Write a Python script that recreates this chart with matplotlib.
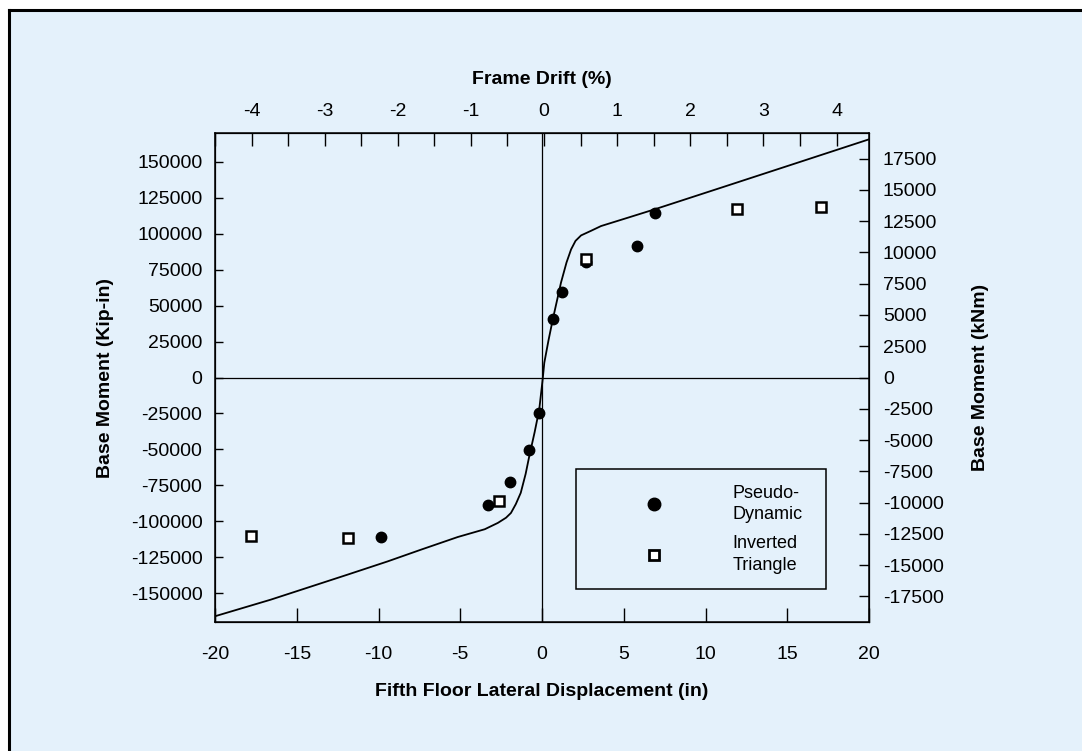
import matplotlib
matplotlib.use('Agg')
import matplotlib.pyplot as plt
from matplotlib.lines import Line2D
from matplotlib.patches import Rectangle

plt.rcParams['font.family'] = 'Liberation Sans'

# backbone curve: fifth floor displacement (in) vs base moment (kip-in)
curve_disp = [-20, -16.6, -11.9, -9.45, -7.4, -5.15, -3.5, -2.7, -2.2, -1.9,
              -1.6, -1.3, -1.0, -0.78, -0.45, -0.17, 0.04, 0.14, 0.4, 0.66,
              1.16, 1.5, 1.78, 2.05, 2.39, 3.0, 3.61, 5.25, 6.88, 10.96, 15.0, 20]
curve_moment = [-166000, -154500, -137100, -127900, -119700, -110900, -105500,
                -101100, -97500, -94200, -88000, -80200, -67000, -54800, -38000,
                -22300, -1400, 10200, 26000, 40400, 65900, 80000, 89100, 95000,
                98800, 102000, 105300, 111100, 116900, 132000, 147000, 165600]

# pseudo-dynamic test results
pd_disp = [-9.86, -3.29, -1.96, -0.78, -0.20, 0.66, 1.24, 2.70, 5.80, 6.92]
pd_moment = [-110900, -88900, -72900, -50100, -24600, 40400, 59600, 80200,
             91400, 114600]

# inverted triangle load pattern
tri_disp = [-17.8, -11.86, -2.65, 2.70, 11.92, 17.05]
tri_moment = [-110000, -111800, -85800, 82600, 117400, 118800]

disp_ticks = [-20, -15, -10, -5, 0, 5, 10, 15, 20]
drift_ticks = [-4, -3, -2, -1, 0, 1, 2, 3, 4]
drift_minor = [-4.5, -3.5, -2.5, -1.5, -0.5, 0.5, 1.5, 2.5, 3.5]
moment_ticks = list(range(-150000, 150001, 25000))
knm_ticks = list(range(-17500, 17501, 2500))

FLOOR_HEIGHT = 450.0   # in, fifth floor height
KIPIN_TO_KNM = 0.115
XLIM = 20
YLIM = 170000
BG = '#e4f1fb'

fig = plt.figure(figsize=(10.82, 7.51), dpi=100)
fig.patch.set_facecolor('white')

# panel background with a black rule along the left and top
x0, y1 = 9 / 1082, 1 - 10 / 751
fig.patches.append(Rectangle((x0, 0), 1 - x0, y1, transform=fig.transFigure,
                             facecolor=BG, edgecolor='none', zorder=-2))
fig.lines.append(Line2D([x0, x0], [0, y1], transform=fig.transFigure,
                        color='black', lw=2.2, zorder=-1))
fig.lines.append(Line2D([x0, 1], [y1, y1], transform=fig.transFigure,
                        color='black', lw=2.2, zorder=-1))

ax = fig.add_axes([215 / 1082, 1 - 622 / 751, 654 / 1082, 489 / 751])
ax.set_facecolor(BG)

ax.axhline(0, color='black', lw=0.9, zorder=1)
ax.axvline(0, color='black', lw=0.9, zorder=1)
ax.plot(curve_disp, curve_moment, color='black', lw=1.3, zorder=2)
ax.plot(pd_disp, pd_moment, 'o', color='black', ms=7.5, zorder=3)
ax.plot(tri_disp, tri_moment, 's', mfc='white', mec='black', mew=1.8, ms=6.5,
        zorder=3)

ax.set_xlim(-XLIM, XLIM)
ax.set_ylim(-YLIM, YLIM)
ax.set_xticks(disp_ticks)
ax.set_xticklabels([str(v) for v in disp_ticks])
ax.set_yticks(moment_ticks)
ax.set_yticklabels([str(v) for v in moment_ticks])
ax.tick_params(direction='in', labelsize=14, width=1, top=False, right=False)
ax.tick_params(axis='x', length=10, pad=17)
ax.tick_params(axis='y', length=6, pad=9)
for s in ax.spines.values():
    s.set_linewidth(1.1)

ax.set_xlabel('Fifth Floor Lateral Displacement (in)', fontsize=14,
              fontweight='bold', labelpad=15)
ax.set_ylabel('Base Moment (Kip-in)', fontsize=14, fontweight='bold',
              labelpad=12)

# drift scale on top
ax_top = ax.twiny()
ax_top.set_xlim(-XLIM / FLOOR_HEIGHT * 100, XLIM / FLOOR_HEIGHT * 100)
ax_top.set_xticks(drift_ticks)
ax_top.set_xticklabels([str(v) for v in drift_ticks])
ax_top.set_xticks(drift_minor, minor=True)
ax_top.tick_params(axis='x', which='both', direction='in', length=9, width=1,
                   labelsize=14, pad=9)
ax_top.set_xlabel('Frame Drift (%)', fontsize=14, fontweight='bold',
                  labelpad=14)

# metric moment on the right
ax_right = ax.twinx()
ax_right.set_ylim(-YLIM * KIPIN_TO_KNM, YLIM * KIPIN_TO_KNM)
ax_right.set_yticks(knm_ticks)
ax_right.set_yticklabels([str(v) for v in knm_ticks])
ax_right.tick_params(axis='y', direction='in', length=7, width=1,
                     labelsize=14, pad=10)
ax_right.set_ylabel('Base Moment (kNm)', fontsize=14, fontweight='bold',
                    labelpad=20)

handles = [
    Line2D([], [], ls='none', marker='o', color='black', ms=9),
    Line2D([], [], ls='none', marker='s', mfc='white', mec='black', mew=2,
           ms=7.5),
]
leg = ax.legend(handles, ['Pseudo-\nDynamic', 'Inverted\nTriangle'],
                loc='lower left', bbox_to_anchor=(0.552, 0.067, 0.382, 0.251),
                mode='expand', fontsize=13, fancybox=False, framealpha=1,
                facecolor=BG, edgecolor='black', borderpad=0.86,
                handlelength=6.94, handletextpad=0.86, labelspacing=0.67,
                borderaxespad=0)
leg.get_frame().set_linewidth(1.1)
for t in leg.get_texts():
    t.set_linespacing(1.35)

fig.savefig('out.png', dpi=100)
